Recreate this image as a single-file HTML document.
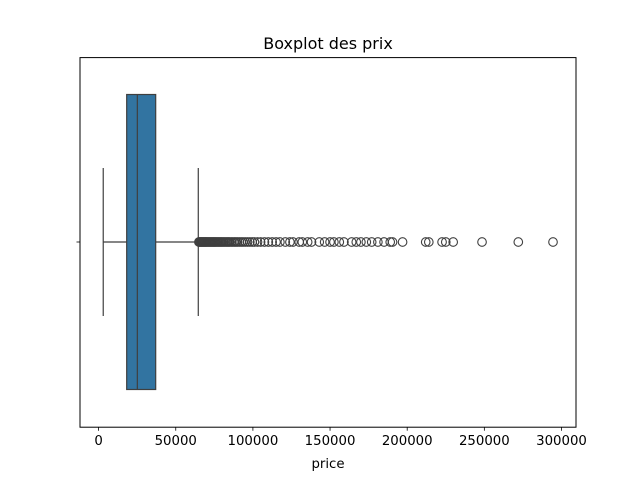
<!DOCTYPE html>
<html><head><meta charset="utf-8"><style>
body{margin:0;background:#fff;}
svg{display:block;font-family:"DejaVu Sans","Liberation Sans",sans-serif;}
</style></head><body>
<svg id="chart" width="640" height="480" viewBox="0 0 640 480">
<text x="328" y="49" font-size="16" text-anchor="middle" fill="#000">Boxplot des prix</text>
<g id="plot"></g>
<rect x="80" y="57.6" width="496" height="369.6" fill="none" stroke="#000" stroke-width="1"/>
<text x="328" y="468" font-size="13.3" text-anchor="middle" fill="#000">price</text>
</svg>
<script>
const xTicks = [0, 50000, 100000, 150000, 200000, 250000, 300000];
const stats = {whiskerLow: 3000, q1: 18200, median: 25100, q3: 37000, whiskerHigh: 64600};
const outliers = [65000,65500,66000,66500,67000,67500,68000,68500,69000,69500,70000,70600,71200,71800,72400,73000,73600,74200,74800,75400,76000,76700,77400,78100,78800,79500,80200,81000,81800,82600,83400,84200,85000,86000,87000,88000,89000,90000,91200,92400,93600,95000,96500,98000,99500,101000,103000,105000,107500,110000,112500,115000,117500,121000,124000,126000,130000,132000,135500,138000,143000,146500,150000,152500,156000,159000,164000,167000,170000,173500,177000,181000,185000,189000,190500,197000,212000,214000,222600,225000,229800,248500,272000,294500];
const svgNS = "http://www.w3.org/2000/svg";
const plot = document.getElementById('plot');
const X0 = 98.6, XS = 462.9 / 300000;
function xs(v){ return X0 + v * XS; }
const yC = 242, boxTop = 94.5, boxBot = 389.5, capTop = 168, capBot = 316;
function mk(tag, attrs){ const e = document.createElementNS(svgNS, tag); for (const k in attrs) e.setAttribute(k, attrs[k]); plot.appendChild(e); return e; }
const lc = "#3f3f3f";
let e;
e = mk('line',{x1:xs(stats.whiskerLow),x2:xs(stats.q1),y1:yC,y2:yC,stroke:lc,'stroke-width':1.2});


e = mk('line',{x1:xs(stats.q3),x2:xs(stats.whiskerHigh),y1:yC,y2:yC,stroke:lc,'stroke-width':1.2});


e = mk('line',{x1:xs(stats.whiskerLow),x2:xs(stats.whiskerLow),y1:capTop,y2:capBot,stroke:lc,'stroke-width':1.2});


e = mk('line',{x1:xs(stats.whiskerHigh),x2:xs(stats.whiskerHigh),y1:capTop,y2:capBot,stroke:lc,'stroke-width':1.2});


e = mk('rect',{x:xs(stats.q1),y:boxTop,width:xs(stats.q3)-xs(stats.q1),height:boxBot-boxTop,fill:'#3274a1',stroke:lc,'stroke-width':1.2});


e = mk('line',{x1:xs(stats.median),x2:xs(stats.median),y1:boxTop,y2:boxBot,stroke:lc,'stroke-width':1.2});


outliers.forEach(v=>{
  const c = mk('circle',{cx:xs(v),cy:yC,r:4.3,fill:'none',stroke:lc,'stroke-width':1.1});
  
  
});
xTicks.forEach(t=>{
  const l = mk('line',{x1:xs(t),x2:xs(t),y1:427.2,y2:430.7,stroke:'#000','stroke-width':0.8});
  
  
  const tx = mk('text',{x:xs(t),y:445,'font-size':13.3,'text-anchor':'middle',fill:'#000'});
  tx.textContent = String(t);
  
  
});
e = mk('line',{x1:76.5,x2:80,y1:yC,y2:yC,stroke:'#000','stroke-width':0.8});


</script>
</body></html>
